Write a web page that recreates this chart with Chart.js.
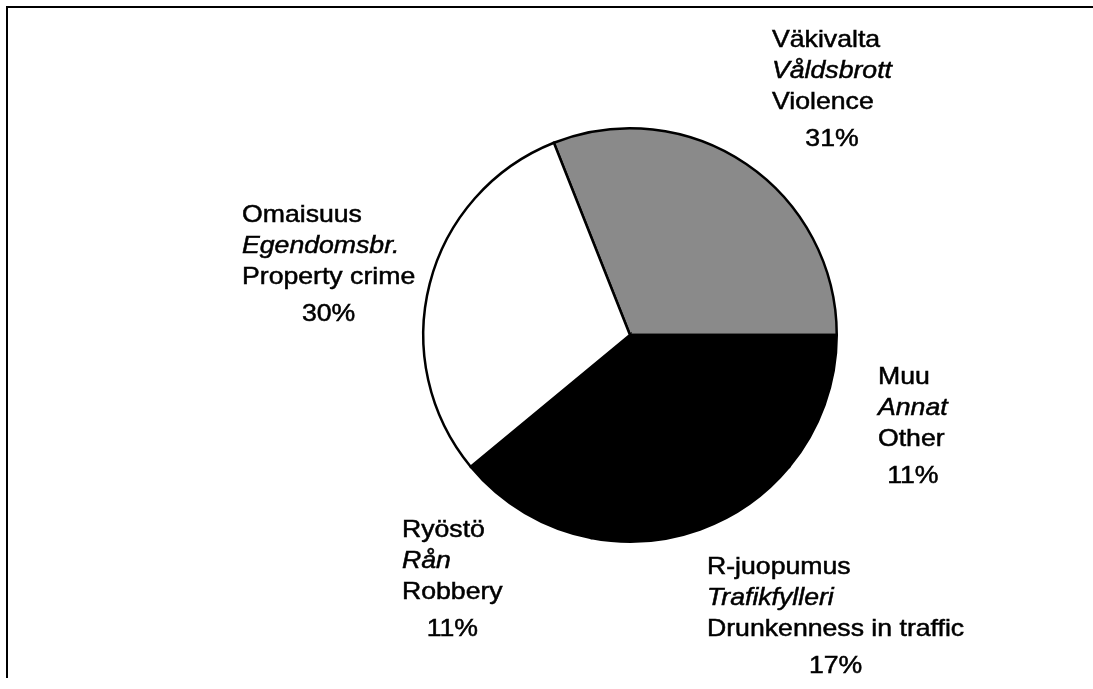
<!DOCTYPE html>
<html>
<head>
<meta charset="utf-8">
<script src="https://cdn.jsdelivr.net/npm/chart.js@4.4.1/dist/chart.umd.min.js"></script>
<style>
  html, body { margin: 0; padding: 0; background: #fff; }
  #wrap { position: relative; width: 1093px; height: 689px; }
  #frame { position: absolute; left: 6px; top: 6px; width: 1087px; height: 670px;
           border-top: 2px solid #000; border-left: 2px solid #000; }
  canvas { position: absolute; left: 0; top: 0; }
</style>
</head>
<body>
<div id="wrap">
  <div id="frame"></div>
  <canvas id="pie" width="1093" height="689"></canvas>
</div>
<script>
// categories (Finnish / Swedish / English) and shares in %
const namesFi = ['Väkivalta', 'Muu', 'R-juopumus', 'Ryöstö', 'Omaisuus'];
const namesSv = ['Våldsbrott', 'Annat', 'Trafikfylleri', 'Rån', 'Egendomsbr.'];
const namesEn = ['Violence', 'Other', 'Drunkenness in traffic', 'Robbery', 'Property crime'];
const shares = [31, 11, 17, 11, 30];
const fills = ['#8a8a8a', '#000000', '#000000', '#000000', '#ffffff'];

// where each label block sits, relative to the pie centre (left edge, first line)
const labelOffsets = [[142, -295], [248, 42], [77, 232], [-228, 195], [-388, -120]];

const FONT = '"Liberation Sans", Arial, sans-serif';
const SIZE = 24;
const STRETCH = 1.11;

const labelPlugin = {
  id: 'blockLabels',
  afterDraw(chart) {
    const ctx = chart.ctx;
    const arcs = chart.getDatasetMeta(0).data;
    if (!arcs.length) return;
    const cx = arcs[0].x, cy = arcs[0].y;
    ctx.save();
    ctx.fillStyle = '#000';
    ctx.strokeStyle = '#000';
    ctx.lineWidth = 0.5;
    ctx.textBaseline = 'middle';
    ctx.textAlign = 'left';
    const put = (t, x, y) => {
      ctx.save();
      ctx.translate(x, y);
      ctx.scale(STRETCH, 1);
      ctx.fillText(t, 0, 0);
      ctx.strokeText(t, 0, 0);
      ctx.restore();
    };
    shares.forEach((v, i) => {
      const x = cx + labelOffsets[i][0];
      const y = cy + labelOffsets[i][1];
      const lines = [
        { t: namesFi[i], f: SIZE + 'px ' + FONT },
        { t: namesSv[i], f: 'italic ' + SIZE + 'px ' + FONT },
        { t: namesEn[i], f: SIZE + 'px ' + FONT }
      ];
      let widest = 0;
      lines.forEach((ln, k) => {
        ctx.font = ln.f;
        widest = Math.max(widest, ctx.measureText(ln.t).width * STRETCH);
        put(ln.t, x, y + k * 31);
      });
      ctx.font = SIZE + 'px ' + FONT;
      const pct = v + '%';
      const pw = ctx.measureText(pct).width * STRETCH;
      put(pct, x + widest / 2 - pw / 2, y + 2 * 31 + 37);
    });
    ctx.restore();
  }
};

new Chart(document.getElementById('pie'), {
  type: 'pie',
  data: {
    labels: namesEn,
    datasets: [{
      data: shares,
      backgroundColor: fills,
      borderColor: '#000',
      borderWidth: 2.5,
      borderJoinStyle: 'miter'
    }]
  },
  options: {
    responsive: false,
    animation: false,
    rotation: -21.6,
    layout: { padding: { top: 127, bottom: 146, left: 300, right: 133 } },
    plugins: {
      legend: { display: false },
      tooltip: { enabled: false }
    }
  },
  plugins: [labelPlugin]
});
</script>
</body>
</html>
